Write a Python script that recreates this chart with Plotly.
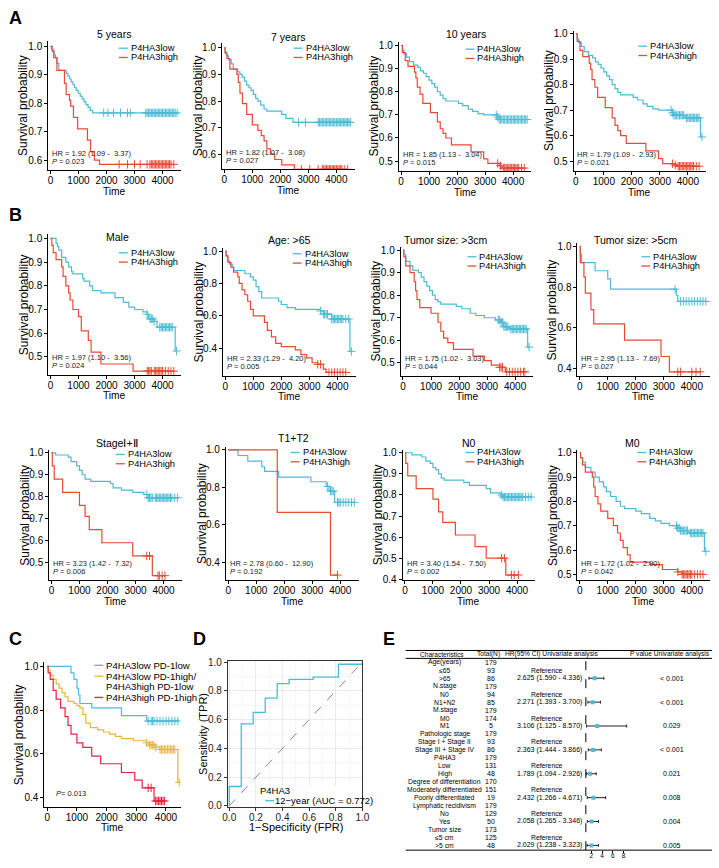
import plotly.graph_objects as go

# ====================== DATA ======================
# --- Panel A: 5 years ---
a5_low_t = [40, 80, 130, 180, 230, 300, 560, 620, 680, 740, 800, 860, 920, 990, 1060, 1130, 1200, 1270, 1340, 1420, 1500]
a5_low_s = [0.99, 0.98, 0.97, 0.96, 0.94, 0.915, 0.905, 0.895, 0.885, 0.875, 0.865, 0.855, 0.845, 0.835, 0.825, 0.815, 0.805, 0.795, 0.785, 0.775, 0.766]
a5_low_c = [1900, 2050, 2250, 2500, 2750, 2850, 3400, 3450, 3500, 3550, 3600, 3650, 3700, 3750, 3800, 3850, 3900, 3950, 4000, 4050, 4100, 4150, 4200, 4250, 4300, 4350, 4400, 4450, 4520]
a5_high_t = [60, 120, 230, 500, 560, 680, 720, 820, 970, 1320, 1430, 1570, 1750]
a5_high_s = [0.985, 0.96, 0.915, 0.87, 0.83, 0.81, 0.79, 0.75, 0.71, 0.67, 0.63, 0.60, 0.585]
a5_high_c = [2450, 2750, 3000, 3200, 3450, 3550, 3600, 3650, 3700, 3750, 3800, 3850, 3900, 3950, 4000, 4050, 4100, 4150, 4200, 4250, 4300, 4400]
# --- Panel A: 7 years ---
a7_low_t = [30, 80, 150, 250, 320, 480, 560, 640, 720, 800, 880, 960, 1040, 1120, 1200, 1300, 1420, 1520, 2050, 2200, 2450]
a7_low_s = [0.985, 0.97, 0.955, 0.94, 0.92, 0.91, 0.90, 0.89, 0.875, 0.86, 0.85, 0.84, 0.825, 0.81, 0.80, 0.785, 0.77, 0.762, 0.75, 0.735, 0.72]
a7_low_c = [2650, 2900, 3350, 3400, 3450, 3500, 3550, 3600, 3650, 3700, 3750, 3800, 3850, 3900, 3950, 4000, 4050, 4100, 4150, 4200, 4250, 4300, 4350, 4400, 4450, 4500]
a7_high_t = [30, 100, 200, 450, 500, 560, 650, 800, 1000, 1200, 1320, 1420, 1520, 1650, 1800, 2050, 2500]
a7_high_s = [0.98, 0.96, 0.92, 0.90, 0.87, 0.83, 0.79, 0.75, 0.71, 0.69, 0.67, 0.65, 0.62, 0.60, 0.58, 0.56, 0.543]
a7_high_c = [2750, 3050, 3350, 3500, 3550, 3600, 3650, 3700, 3750, 3800, 3850, 3900, 3950, 4000, 4050, 4100, 4150, 4200, 4300, 4400]
# --- Panel A: 10 years ---
a10_low_t = [50, 100, 200, 300, 450, 600, 700, 800, 900, 1000, 1100, 1200, 1300, 1400, 1500, 1600, 2050, 2200, 2400, 2550, 2750, 2950, 3450, 3500]
a10_low_s = [0.98, 0.965, 0.95, 0.93, 0.915, 0.905, 0.89, 0.88, 0.865, 0.85, 0.835, 0.82, 0.80, 0.785, 0.77, 0.76, 0.75, 0.74, 0.725, 0.715, 0.705, 0.70, 0.69, 0.68]
a10_low_c = [3400, 3450, 3500, 3550, 3600, 3650, 3700, 3750, 3800, 3850, 3900, 3950, 4000, 4050, 4100, 4150, 4200, 4250, 4300, 4350, 4400, 4450, 4500]
a10_high_t = [50, 150, 250, 480, 530, 580, 680, 780, 1050, 1300, 1400, 1500, 1600, 1800, 2500, 2950, 3100, 3500, 3600]
a10_high_s = [0.97, 0.935, 0.91, 0.885, 0.86, 0.82, 0.79, 0.75, 0.71, 0.67, 0.64, 0.62, 0.60, 0.57, 0.54, 0.51, 0.49, 0.48, 0.47]
a10_high_c = [3450, 3550, 3650, 3700, 3750, 3800, 3850, 3900, 3950, 4000, 4050, 4100, 4150, 4200, 4300, 4400]
# --- Panel A: overall ---
aall_low_t = [50, 100, 200, 300, 450, 600, 700, 800, 900, 1000, 1100, 1200, 1300, 1400, 1500, 1600, 2050, 2200, 2400, 2550, 2750, 2950, 3450, 3500, 3900, 4450]
aall_low_s = [0.98, 0.965, 0.95, 0.93, 0.915, 0.905, 0.89, 0.88, 0.865, 0.85, 0.835, 0.82, 0.80, 0.785, 0.77, 0.76, 0.75, 0.74, 0.725, 0.715, 0.705, 0.70, 0.69, 0.68, 0.67, 0.595]
aall_low_c = [3400, 3450, 3500, 3550, 3600, 3650, 3700, 3750, 3800, 3850, 3950, 4000, 4050, 4100, 4150, 4200, 4250, 4300, 4350, 4400, 4500]
aall_high_t = [50, 150, 250, 480, 530, 580, 680, 780, 1050, 1300, 1400, 1500, 1600, 1800, 2500, 2950, 3100, 3500, 3600]
aall_high_s = [0.97, 0.935, 0.91, 0.885, 0.86, 0.82, 0.79, 0.75, 0.71, 0.67, 0.64, 0.62, 0.60, 0.57, 0.54, 0.51, 0.49, 0.485, 0.48]
aall_high_c = [3450, 3550, 3650, 3700, 3750, 3800, 3850, 3900, 3950, 4000, 4050, 4100, 4150, 4200, 4300, 4400]
# --- Panel B: Male ---
male_low_t = [200, 250, 300, 400, 550, 650, 750, 800, 1150, 1200, 1400, 1500, 1800, 2300, 2600, 2800, 3000, 3300, 3450, 3500, 3700, 3800, 4450]
male_low_s = [0.98, 0.965, 0.95, 0.92, 0.90, 0.88, 0.86, 0.85, 0.83, 0.82, 0.80, 0.78, 0.77, 0.75, 0.73, 0.71, 0.70, 0.69, 0.68, 0.66, 0.65, 0.625, 0.525]
male_low_c = [3450, 3550, 3600, 3650, 3700, 3900, 3950, 4000, 4050, 4100, 4150, 4200, 4250, 4300, 4350, 4500]
male_high_t = [50, 100, 200, 400, 450, 550, 650, 700, 800, 1000, 1100, 1350, 1450, 1800, 2950]
male_high_s = [0.97, 0.94, 0.91, 0.88, 0.84, 0.80, 0.77, 0.74, 0.70, 0.67, 0.61, 0.57, 0.52, 0.47, 0.44]
male_high_c = [3450, 3500, 3550, 3600, 3700, 3750, 3800, 3850, 3900, 3950, 4000, 4100, 4200, 4300, 4400]
# --- Panel B: Age >65 ---
age_low_t = [30, 80, 150, 250, 300, 700, 900, 1000, 1100, 1200, 1300, 1900, 2000, 2200, 2500, 3400, 3500, 3800, 4450]
age_low_s = [0.97, 0.94, 0.92, 0.90, 0.88, 0.86, 0.84, 0.82, 0.78, 0.75, 0.71, 0.69, 0.67, 0.65, 0.64, 0.63, 0.61, 0.58, 0.38]
age_low_c = [3400, 3500, 3550, 3600, 3650, 3800, 3850, 3900, 3950, 4000, 4050, 4100, 4150, 4200, 4300, 4400, 4500]
age_high_t = [30, 100, 200, 300, 450, 500, 600, 700, 800, 900, 1000, 1400, 1500, 1650, 1800, 2000, 2500, 2700, 2900, 3100, 3300, 3500, 3600]
age_high_s = [0.97, 0.93, 0.90, 0.87, 0.84, 0.80, 0.76, 0.73, 0.69, 0.64, 0.60, 0.56, 0.51, 0.47, 0.43, 0.41, 0.39, 0.36, 0.34, 0.31, 0.30, 0.27, 0.25]
age_high_c = [3300, 3400, 3700, 3800, 3900, 4000, 4100, 4200, 4300]
# --- Panel B: Tumor size >3cm ---
ts3_low_t = [30, 100, 250, 350, 550, 650, 750, 850, 950, 1050, 1150, 1250, 1350, 1900, 2100, 2400, 2600, 2900, 3300, 3500, 3600, 3800, 4450]
ts3_low_s = [0.98, 0.95, 0.93, 0.91, 0.90, 0.88, 0.86, 0.84, 0.82, 0.80, 0.78, 0.77, 0.76, 0.75, 0.74, 0.72, 0.71, 0.70, 0.69, 0.68, 0.66, 0.65, 0.57]
ts3_low_c = [3400, 3450, 3500, 3550, 3600, 3650, 3700, 3750, 3850, 3900, 3950, 4000, 4050, 4100, 4150, 4200, 4250, 4300, 4350, 4400, 4500]
ts3_high_t = [30, 100, 250, 400, 450, 500, 600, 1000, 1250, 1350, 1450, 1600, 1800, 2500, 2900, 3150, 3450, 3650]
ts3_high_s = [0.97, 0.93, 0.90, 0.86, 0.82, 0.78, 0.745, 0.72, 0.68, 0.64, 0.61, 0.59, 0.56, 0.53, 0.51, 0.49, 0.48, 0.46]
ts3_high_c = [3450, 3500, 3550, 3700, 3800, 3900, 4000, 4100, 4200, 4300, 4350]
# --- Panel B: Tumor size >5cm ---
ts5_low_t = [20, 60, 550, 1000, 1100, 3450, 3500]
ts5_low_s = [0.96, 0.92, 0.88, 0.84, 0.79, 0.76, 0.73]
ts5_low_c = [3400, 3600, 3700, 3800, 3900, 4000, 4100, 4200, 4300, 4400, 4500]
ts5_high_t = [20, 150, 200, 400, 500, 1600, 2900, 3200]
ts5_high_s = [0.92, 0.85, 0.77, 0.69, 0.62, 0.54, 0.46, 0.385]
ts5_high_c = [3500, 3600, 4000, 4150, 4300]
# --- Panel B: Stage I+II ---
stg_low_t = [150, 600, 700, 900, 1000, 1100, 1200, 1400, 2100, 2200, 2500, 2900, 3300, 3450]
stg_low_s = [0.99, 0.98, 0.96, 0.94, 0.92, 0.90, 0.88, 0.87, 0.86, 0.84, 0.83, 0.82, 0.81, 0.795]
stg_low_c = [3400, 3450, 3500, 3550, 3600, 3700, 3750, 3800, 3850, 3900, 3950, 4000, 4050, 4100, 4150, 4200, 4250, 4300, 4400, 4500]
stg_high_t = [30, 100, 400, 1000, 1200, 1350, 1800, 2900, 3600]
stg_high_s = [0.94, 0.88, 0.82, 0.76, 0.71, 0.65, 0.59, 0.53, 0.44]
stg_high_c = [3400, 3500, 3800, 3850, 3950, 4050]
# --- Panel B: T1+T2 ---
t12_low_t = [350, 700, 1200, 1300, 1800, 2950, 3500, 3600, 3800]
t12_low_s = [0.97, 0.94, 0.91, 0.885, 0.855, 0.83, 0.805, 0.78, 0.72]
t12_low_c = [3550, 3650, 3700, 3750, 3900, 3950, 4000, 4100, 4200, 4300, 4400, 4500]
t12_high_t = [1750, 3650]
t12_high_s = [0.667, 0.333]
t12_high_c = [3900]
# --- Panel B: N0 ---
n0_low_t = [250, 600, 750, 900, 1000, 1100, 1200, 1300, 1400, 2100, 2300, 2900, 3050, 3400, 3500]
n0_low_s = [0.99, 0.98, 0.96, 0.95, 0.93, 0.92, 0.90, 0.88, 0.87, 0.86, 0.845, 0.83, 0.81, 0.80, 0.79]
n0_low_c = [3450, 3500, 3550, 3600, 3650, 3700, 3750, 3800, 3850, 3900, 3950, 4000, 4050, 4100, 4150, 4200, 4300, 4400, 4500]
n0_high_t = [30, 100, 400, 1000, 1200, 1350, 1800, 2500, 2900, 3600]
n0_high_s = [0.95, 0.89, 0.83, 0.78, 0.72, 0.67, 0.61, 0.555, 0.50, 0.42]
n0_high_c = [3450, 3550, 3800, 3900, 4050]
# --- Panel B: M0 ---
m0_low_t = [30, 100, 200, 400, 550, 700, 850, 950, 1100, 1300, 1450, 1600, 2000, 2200, 2500, 2700, 2900, 3200, 3500, 3600, 3900, 4450]
m0_low_s = [0.98, 0.96, 0.94, 0.92, 0.90, 0.88, 0.86, 0.84, 0.82, 0.80, 0.78, 0.77, 0.76, 0.75, 0.73, 0.72, 0.71, 0.70, 0.69, 0.68, 0.67, 0.595]
m0_low_c = [3450, 3500, 3550, 3600, 3650, 3700, 3750, 3800, 3850, 3950, 4000, 4050, 4100, 4150, 4200, 4250, 4300, 4350, 4400, 4500]
m0_high_t = [30, 100, 200, 450, 500, 550, 650, 750, 1000, 1200, 1350, 1450, 1550, 1700, 1800, 2500, 2950, 3500, 3650]
m0_high_s = [0.98, 0.95, 0.92, 0.90, 0.86, 0.82, 0.79, 0.76, 0.73, 0.70, 0.67, 0.64, 0.61, 0.58, 0.55, 0.54, 0.52, 0.51, 0.50]
m0_high_c = [3500, 3650, 3700, 3750, 3800, 3850, 3900, 3950, 4000, 4100, 4200, 4300, 4400]
# --- Panel C: P4HA3 x PD-1 ---
c_ll_t = [800, 900, 1000, 1050, 1100, 1500, 2500, 3350]
c_ll_s = [0.97, 0.94, 0.90, 0.87, 0.83, 0.81, 0.775, 0.75]
c_ll_c = [3400, 3500, 3550, 3600, 3700, 3800, 3900, 4000, 4100, 4200, 4300, 4400]
c_mix_t = [30, 100, 200, 300, 400, 500, 600, 700, 900, 1000, 1100, 1200, 1300, 1450, 1700, 1900, 2100, 2300, 2500, 2900, 3350, 3450, 3650, 3800, 4400]
c_mix_s = [0.98, 0.96, 0.94, 0.92, 0.90, 0.88, 0.86, 0.84, 0.83, 0.82, 0.81, 0.78, 0.74, 0.72, 0.71, 0.70, 0.69, 0.68, 0.67, 0.66, 0.65, 0.64, 0.63, 0.62, 0.47]
c_mix_c = [3350, 3450, 3500, 3550, 3600, 3650, 3800, 3850, 3900, 3950, 4000, 4050, 4100, 4150, 4200, 4250, 4300, 4450]
c_hh_t = [30, 100, 200, 300, 450, 600, 700, 800, 1000, 1200, 1500, 1800, 2500, 2950, 3200, 3600]
c_hh_s = [0.97, 0.94, 0.89, 0.85, 0.81, 0.77, 0.73, 0.69, 0.65, 0.63, 0.59, 0.555, 0.515, 0.48, 0.445, 0.385]
c_hh_c = [3400, 3500, 3650, 3700, 3750, 3800, 3850, 3900, 3950]
# --- Panel D: ROC ---
roc_fpr = [0, 0, 0.09, 0.18, 0.27, 0.36, 0.45, 0.63, 0.82, 1.0]
roc_tpr = [0, 0.135, 0.57, 0.65, 0.75, 0.85, 0.88, 0.895, 0.985, 1.0]
# --- Panel E: univariate Cox table ---
tab_char = ["Age(years)", "≤65", ">65", "N.stage", "N0", "N1+N2", "M.stage", "M0", "M1",
            "Pathologic stage", "Stage I + Stage II", "Stage III + Stage IV", "P4HA3", "Low", "High",
            "Degree of differentiation", "Moderately differentiated", "Poorly differentiated",
            "Lymphatic recidivism", "No", "Yes", "Tumor size", "≤5 cm", ">5 cm"]
tab_total = ["179", "93", "86", "179", "94", "85", "179", "174", "5", "179", "93", "86", "179", "131", "48",
             "170", "151", "19", "179", "129", "50", "173", "125", "48"]
ref_rows = [1, 4, 7, 10, 13, 16, 19, 22]
hr_rows = [2, 5, 8, 11, 14, 17, 20, 23]
hr_est = [2.625, 2.271, 3.106, 2.363, 1.789, 2.432, 2.058, 2.029]
hr_lo = [1.590, 1.393, 1.125, 1.444, 1.094, 1.266, 1.265, 1.238]
hr_hi = [4.336, 3.700, 8.570, 3.866, 2.926, 4.671, 3.346, 3.323]
hr_p = ["< 0.001", "< 0.001", "0.029", "< 0.001", "0.021", "0.008", "0.004", "0.005"]

# ====================== FIGURE ======================
W, H = 719, 868
FONT = "Liberation Sans, Arial, sans-serif"
C_LOW, C_HIGH = "#4DBBD5", "#E64B35"
C_MIX, C_HH = "#E5B73B", "#E8233F"
NB = "\u00a0"

fig = go.Figure()
ann, shp, axes = [], [], {}


def fx(p):
    return p / W


def fy(p):
    return 1 - p / H


def text(x, y, s, size=10, xa="center", ya="middle", angle=0, color="black"):
    ann.append(dict(x=fx(x), y=fy(y), xref="paper", yref="paper", text=s, showarrow=False,
                    xanchor=xa, yanchor=ya, textangle=angle, borderpad=0,
                    font=dict(size=size, color=color, family=FONT)))


def hline(x0, x1, y, color="black", width=1):
    shp.append(dict(type="line", xref="paper", yref="paper", x0=fx(x0), x1=fx(x1), y0=fy(y), y1=fy(y),
                    line=dict(color=color, width=width)))


def surv_at(t, s, x):
    v = 1.0
    for ti, si in zip(t, s):
        if ti <= x:
            v = si
    return v


def add_curve(n, t, s, cens, color):
    end = max([t[-1]] + list(cens))
    xs = [0] + list(t) + [end]
    ys = [1.0] + list(s) + [s[-1]]
    fig.add_trace(go.Scatter(x=xs, y=ys, mode="lines", line=dict(color=color, width=1.2, shape="hv"),
                             xaxis=f"x{n}", yaxis=f"y{n}", showlegend=False, hoverinfo="skip"))
    fig.add_trace(go.Scatter(x=cens, y=[surv_at(t, s, c) for c in cens], mode="markers",
                             marker=dict(symbol="cross-thin", size=6, line=dict(color=color, width=1)),
                             xaxis=f"x{n}", yaxis=f"y{n}", showlegend=False, hoverinfo="skip"))


def legend(lx, ly, items, size=9.3, gap=9.4):
    for i, (lab, col) in enumerate(items):
        y = ly + i * gap
        if col:
            shp.append(dict(type="line", xref="paper", yref="paper", x0=fx(lx), x1=fx(lx + 9),
                            y0=fy(y), y1=fy(y), line=dict(color=col, width=1.3)))
        text(lx + 11, y, lab, size, xa="left")


def km_panel(n, rect, xr, yr, yt, curves, title=None, tpos=None, lpos=None, hr=None, p=None):
    x0, x1, top, bot = rect
    tf = dict(size=10, color="black", family=FONT)
    axes[f"xaxis{n}"] = dict(domain=[fx(x0), fx(x1)], range=xr, anchor=f"y{n}",
                             tickvals=[0, 1000, 2000, 3000, 4000], showline=True, linecolor="black",
                             linewidth=1, ticks="outside", ticklen=3, tickcolor="black", showgrid=False,
                             zeroline=False, tickfont=tf, fixedrange=True, ticklabelstandoff=-2)
    axes[f"yaxis{n}"] = dict(domain=[fy(bot), fy(top)], range=yr, anchor=f"x{n}", tickvals=yt,
                             tickformat=".1f", showline=True, linecolor="black", linewidth=1,
                             ticks="outside", ticklen=3, tickcolor="black", showgrid=False,
                             zeroline=False, tickfont=tf, fixedrange=True)
    for (t, s, c, col) in curves:
        add_curve(n, t, s, c, col)
    text(x0 - 25, (top + bot) / 2, "Survival probability", 12, angle=-90)
    text((x0 + x1) / 2, bot + 21.5, "Time", 10.2)
    if title:
        text(tpos[0], tpos[1], title, 10.5)
    if lpos:
        legend(lpos[0], lpos[1] - 0.3, [("P4HA3low", C_LOW), ("P4HA3high", C_HIGH)])
    if hr:
        text(x0 + 3, bot - 17, hr, 7.5, xa="left", color="#222")
        text(x0 + 3, bot - 9, "<i>P</i> = " + p, 7.5, xa="left", color="#222")


XR = [-80, 4650]
Y5 = [0.6, 0.7, 0.8, 0.9, 1.0]
Y6 = [0.5, 0.6, 0.7, 0.8, 0.9, 1.0]
Y4 = [0.4, 0.6, 0.8, 1.0]
Y7 = [0.4, 0.5, 0.6, 0.7, 0.8, 0.9, 1.0]


def hrs(a, b, c):
    return f"HR = {a} ({b} -{NB}{NB}{c})"


# Panel A
km_panel(1, (43, 178, 36, 167), XR, [0.565, 1.02], Y5,
         [(a5_low_t, a5_low_s, a5_low_c, C_LOW), (a5_high_t, a5_high_s, a5_high_c, C_HIGH)],
         "5 years", (110, 29), (115, 44), hrs("1.92", "1.09", "3.37"), "0.023")
km_panel(2, (220, 355, 38, 166), XR, [0.544, 1.02], Y5,
         [(a7_low_t, a7_low_s, a7_low_c, C_LOW), (a7_high_t, a7_high_s, a7_high_c, C_HIGH)],
         "7 years", (287, 32), (293, 44), hrs("1.82", "1.07", "3.08"), "0.027")
km_panel(3, (400, 535, 37, 168), XR, [0.457, 1.017], Y6,
         [(a10_low_t, a10_low_s, a10_low_c, C_LOW), (a10_high_t, a10_high_s, a10_high_c, C_HIGH)],
         "10 years", (468, 29), (468, 45), hrs("1.85", "1.13", "3.04"), "0.015")
km_panel(4, (578, 713, 26, 168), XR, [0.461, 1.012], Y6,
         [(aall_low_t, aall_low_s, aall_low_c, C_LOW), (aall_high_t, aall_high_s, aall_high_c, C_HIGH)],
         None, None, (644, 42), hrs("1.79", "1.09", "2.93"), "0.021")
# Panel B row 1
km_panel(5, (43, 178, 232, 374), XR, [0.425, 1.017], Y6,
         [(male_low_t, male_low_s, male_low_c, C_LOW), (male_high_t, male_high_s, male_high_c, C_HIGH)],
         "Male", (114, 235), (115, 251), hrs("1.97", "1.10", "3.56"), "0.024")
km_panel(6, (221, 356, 246, 375), XR, [0.23, 1.018], Y4,
         [(age_low_t, age_low_s, age_low_c, C_LOW), (age_high_t, age_high_s, age_high_c, C_HIGH)],
         "Age: >65", (288, 238), (292, 252), hrs("2.33", "1.29", "4.20"), "0.005")
km_panel(7, (402, 537, 245, 375), XR, [0.443, 1.013], Y6,
         [(ts3_low_t, ts3_low_s, ts3_low_c, C_LOW), (ts3_high_t, ts3_high_s, ts3_high_c, C_HIGH)],
         "Tumor size: >3cm", (448, 238), (470, 255), hrs("1.75", "1.02", "3.03"), "0.044")
km_panel(8, (582, 717, 241, 375), XR, [0.366, 1.015], Y4,
         [(ts5_low_t, ts5_low_s, ts5_low_c, C_LOW), (ts5_high_t, ts5_high_s, ts5_high_c, C_HIGH)],
         "Tumor size: >5cm", (642, 238), (647, 255), hrs("2.95", "1.13", "7.69"), "0.027")
# Panel B row 2
km_panel(9, (44, 179, 450, 582), XR, [0.419, 1.0135], Y6,
         [(stg_low_t, stg_low_s, stg_low_c, C_LOW), (stg_high_t, stg_high_s, stg_high_c, C_HIGH)],
         "StageⅠ+Ⅱ", (113, 443), (112, 455), hrs("3.23", "1.42", "7.32"), "0.006")
km_panel(10, (224, 359, 447, 582), XR, [0.305, 1.016], Y4,
         [(t12_low_t, t12_low_s, t12_low_c, C_LOW), (t12_high_t, t12_high_s, t12_high_c, C_HIGH)],
         "T1+T2", (293, 438), (290, 453), hrs("2.78", "0.60", "12.90"), "0.192")
km_panel(11, (404, 539, 450, 582), XR, [0.395, 1.014], Y7,
         [(n0_low_t, n0_low_s, n0_low_c, C_LOW), (n0_high_t, n0_high_s, n0_high_c, C_HIGH)],
         "N0", (472, 443), (468, 453), hrs("3.40", "1.54", "7.50"), "0.002")
km_panel(12, (582, 717, 450, 582), XR, [0.4756, 1.012], Y6,
         [(m0_low_t, m0_low_s, m0_low_c, C_LOW), (m0_high_t, m0_high_s, m0_high_c, C_HIGH)],
         "M0", (638, 443), (643, 453), hrs("1.72", "1.02", "2.90"), "0.042")
# Panel C
km_panel(13, (39, 178, 665, 811), [-100, 4500], [0.359, 1.018], Y4,
         [(c_ll_t, c_ll_s, c_ll_c, C_LOW), (c_mix_t, c_mix_s, c_mix_c, C_MIX), (c_hh_t, c_hh_s, c_hh_c, C_HH)])
legend(90, 668, [("P4HA3low PD-1low", C_LOW), ("P4HA3low PD-1high/", C_MIX)], size=9.6, gap=11)
text(101, 689.5, "P4HA3high PD-1low", 9.6, xa="left")
legend(90, 700.5, [("P4HA3high PD-1high", C_HH)], size=9.6)
text(50, 798, "<i>P</i>= 0.013", 7.5, xa="left", color="#222")

# Panel D: ROC
tfd = dict(size=10, color="#222", family=FONT)
dvals = [0, 0.2, 0.4, 0.6, 0.8, 1.0]
minor = dict(tickvals=[0.1, 0.3, 0.5, 0.7, 0.9], showgrid=True, gridcolor="#F0F0F0", gridwidth=0.6, ticks="")
axes["xaxis14"] = dict(domain=[fx(226), fx(363)], range=[-0.01, 1.0], anchor="y14", tickvals=dvals,
                       tickformat=".1f", showgrid=True, gridcolor="#E6E6E6", gridwidth=0.8, minor=minor,
                       showline=True, mirror=True, linecolor="#333", linewidth=1, ticks="outside",
                       ticklen=3, tickcolor="#333", zeroline=False, tickfont=tfd, ticklabelstandoff=-2)
axes["yaxis14"] = dict(domain=[fy(811), fy(664)], range=[-0.005, 1.005], anchor="x14", tickvals=dvals,
                       tickformat=".1f", showgrid=True, gridcolor="#E6E6E6", gridwidth=0.8, minor=minor,
                       showline=True, mirror=True, linecolor="#333", linewidth=1, ticks="outside",
                       ticklen=3, tickcolor="#333", zeroline=False, tickfont=tfd)
fig.add_trace(go.Scatter(x=[0, 1], y=[0, 1], mode="lines", line=dict(color="#888", width=1, dash="dash"),
                         xaxis="x14", yaxis="y14", showlegend=False, hoverinfo="skip"))
fig.add_trace(go.Scatter(x=roc_fpr, y=roc_tpr, mode="lines", line=dict(color=C_LOW, width=1.3, shape="hv"),
                         xaxis="x14", yaxis="y14", showlegend=False, hoverinfo="skip"))
shp.append(dict(type="rect", xref="x14", yref="y14", x0=0.22, x1=0.995, y0=0.005, y1=0.14,
                fillcolor="white", line=dict(width=0), layer="between"))
text(200, 737, "Sensitivity (TPR)", 11, angle=-90)
text(295, 832, "1\u2212Specificity (FPR)", 11)
text(258, 795, "P4HA3", 9.5, xa="left")
shp.append(dict(type="line", xref="paper", yref="paper", x0=fx(264), x1=fx(273), y0=fy(805), y1=fy(805),
                line=dict(color=C_LOW, width=1.3)))
text(273, 805, "12\u2212year (AUC = 0.772)", 9.5, xa="left")

# Panel E: table + forest
ROW0, DR = 665, 8.05
axes["xaxis15"] = dict(domain=[fx(583), fx(645)], range=[-0.364, 10.91], anchor="y15", tickvals=[2, 4, 6, 8],
                       ticks="outside", ticklen=2, tickcolor="black", showline=False, showgrid=False,
                       zeroline=False, tickfont=dict(size=6.5, color="black", family=FONT),
                       ticklabelstandoff=-3)
axes["yaxis15"] = dict(domain=[fy(855), fy(653)], range=[23.6, -1.49], anchor="x15", visible=False)
fig.add_trace(go.Scatter(x=hr_est, y=hr_rows, mode="markers",
                         marker=dict(symbol="square", size=4, color=C_LOW),
                         error_x=dict(type="data", symmetric=False,
                                      array=[h - e for h, e in zip(hr_hi, hr_est)],
                                      arrayminus=[e - l for e, l in zip(hr_est, hr_lo)],
                                      color="#222", thickness=1, width=1.5),
                         xaxis="x15", yaxis="y15", showlegend=False, hoverinfo="skip"))
shp.append(dict(type="line", xref="x15", yref="paper", x0=1, x1=1, y0=fy(855), y1=fy(662),
                line=dict(color="black", width=1, dash="dash")))
hline(407, 719, 653)
hline(407, 719, 661)
hline(407, 719, 855)
HF, TF, NF = 6.6, 6.8, 7.0
text(444, 657, "Characteristics", HF)
text(491, 657, "Total(N)", HF)
text(556, 657, "HR(95% CI) Univariate analysis", HF)
text(676, 657, "P value Univariate analysis", HF)
for i, (lab, tot) in enumerate(zip(tab_char, tab_total)):
    y = ROW0 + DR * i
    text(447, y, lab, TF)
    text(494, y, tot, NF)
for r in ref_rows:
    text(551, ROW0 + DR * r, "Reference", TF)
for r, e, lo, hi, pv in zip(hr_rows, hr_est, hr_lo, hr_hi, hr_p):
    y = ROW0 + DR * r
    text(554, y, f"{e:.3f} ({lo:.3f} - {hi:.3f})", NF)
    text(678, y, pv, NF)

# Panel letters
for lab, x, y in [("A", 2, 2), ("B", 2, 201), ("C", 2, 630), ("D", 189, 630), ("E", 383, 630)]:
    text(x, y, f"<b>{lab}</b>", 18, xa="left", ya="top")

fig.update_layout(width=W, height=H, margin=dict(l=0, r=0, t=0, b=0), plot_bgcolor="white",
                  paper_bgcolor="white", showlegend=False, annotations=ann, shapes=shp,
                  font=dict(family=FONT), **axes)
fig.write_html("out.html", config={"displayModeBar": False, "staticPlot": True},
               post_script="document.body.style.margin='0px';document.body.style.padding='0px';"
                           "document.documentElement.style.overflow='hidden';")
